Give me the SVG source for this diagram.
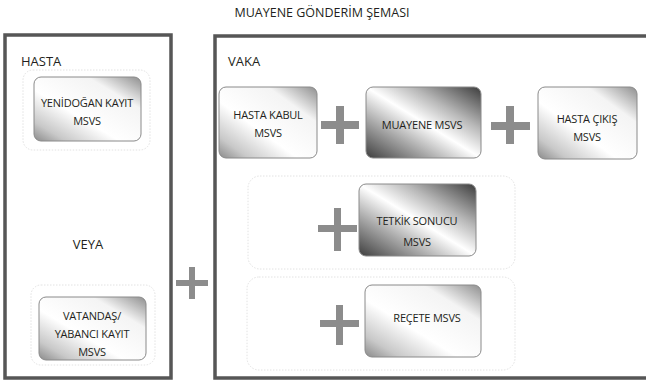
<svg xmlns="http://www.w3.org/2000/svg" width="646" height="383" viewBox="0 0 646 383">
  <style>
    text { font-family: "Open Sans", "Liberation Sans", sans-serif; fill: #231f20; }
    .title { font-size: 12.5px; text-anchor: middle; }
    .label { font-size: 13px; }
    .node-text { font-size: 11px; text-anchor: middle; letter-spacing: -0.2px; }
    .frame { fill: #ffffff; stroke: #565656; stroke-width: 3.5; }
    .group { fill: #ffffff; stroke: #e2e2e2; stroke-width: 1; stroke-dasharray: 1.5 1.5; }
    .node { stroke: #8a8a8a; stroke-width: 1; }
    .light { fill: url(#gLight); }
    .dark { fill: url(#gDark); }
    .plus { fill: #8c8c8c; }
  </style>
  <defs>
    <linearGradient id="gLight" x1="1" y1="0" x2="0" y2="1">
      <stop offset="0" stop-color="#8e8e8e"/>
      <stop offset="0.25" stop-color="#f4f4f4"/>
      <stop offset="0.6" stop-color="#ffffff"/>
      <stop offset="0.85" stop-color="#c8c8c8"/>
      <stop offset="1" stop-color="#8a8a8a"/>
    </linearGradient>
    <linearGradient id="gDark" x1="1" y1="0" x2="0" y2="1">
      <stop offset="0" stop-color="#3c3c3c"/>
      <stop offset="0.3" stop-color="#b8b8b8"/>
      <stop offset="0.5" stop-color="#ffffff"/>
      <stop offset="0.72" stop-color="#a8a8a8"/>
      <stop offset="1" stop-color="#3e3e3e"/>
    </linearGradient>
  </defs>

  <text class="title" x="322" y="17">MUAYENE GÖNDERİM ŞEMASI</text>

  <!-- patient frame -->
  <g id="hasta">
    <rect class="frame" x="5" y="35" width="166" height="343"/>
    <text class="label" x="21" y="66">HASTA</text>
    <text class="label" x="88" y="249" text-anchor="middle">VEYA</text>
  </g>

  <!-- case frame -->
  <g id="vaka">
    <rect class="frame" x="215" y="36" width="440" height="342"/>
    <text class="label" x="228" y="66">VAKA</text>
  </g>

  <!-- dotted grouping panels -->
  <g id="panels">
    <rect class="group" x="23" y="70" width="127" height="80" rx="10"/>
    <rect class="group" x="31" y="285" width="124" height="80" rx="10"/>
    <rect class="group" x="248" y="176" width="267" height="93" rx="12"/>
    <rect class="group" x="247" y="277" width="268" height="93" rx="12"/>
  </g>

  <g id="yenidogan">
    <rect class="node light" x="34" y="77" width="107" height="64" rx="7"/>
    <text class="node-text" x="87" y="107">YENİDOĞAN KAYIT</text>
    <text class="node-text" x="87" y="125">MSVS</text>
  </g>

  <g id="vatandas">
    <rect class="node light" x="39" y="297" width="107" height="63" rx="7"/>
    <text class="node-text" x="92" y="320">VATANDAŞ/</text>
    <text class="node-text" x="92" y="338">YABANCI KAYIT</text>
    <text class="node-text" x="92" y="356">MSVS</text>
  </g>

  <g id="hasta-kabul">
    <rect class="node light" x="219" y="87" width="98" height="71" rx="7"/>
    <text class="node-text" x="268" y="119">HASTA KABUL</text>
    <text class="node-text" x="268" y="137">MSVS</text>
  </g>

  <g id="muayene">
    <rect class="node dark" x="366" y="87" width="115" height="71" rx="7"/>
    <text class="node-text" x="422" y="129">MUAYENE MSVS</text>
  </g>

  <g id="hasta-cikis">
    <rect class="node light" x="538" y="87" width="99" height="72" rx="7"/>
    <text class="node-text" x="587" y="123">HASTA ÇIKIŞ</text>
    <text class="node-text" x="587" y="141">MSVS</text>
  </g>

  <g id="tetkik">
    <rect class="node dark" x="359" y="184" width="117" height="72" rx="7"/>
    <text class="node-text" x="417" y="225">TETKİK SONUCU</text>
    <text class="node-text" x="417" y="246">MSVS</text>
  </g>

  <g id="recete">
    <rect class="node light" x="365" y="285" width="116" height="72" rx="7"/>
    <text class="node-text" x="427" y="322">REÇETE MSVS</text>
  </g>

  <!-- plus connectors -->
  <g id="connectors">
    <path class="plus" d="M176 280h32v6h-32zM189 267h6v32h-6z"/>
    <path class="plus" d="M321 121h38v8h-38zM336 106h8v38h-8z"/>
    <path class="plus" d="M491 122h39v8h-39zM506 106h8v38h-8z"/>
    <path class="plus" d="M318 225h39v7h-39zM334 208h7v43h-7z"/>
    <path class="plus" d="M320 320h39v7h-39zM336 305h7v40h-7z"/>
  </g>
</svg>
